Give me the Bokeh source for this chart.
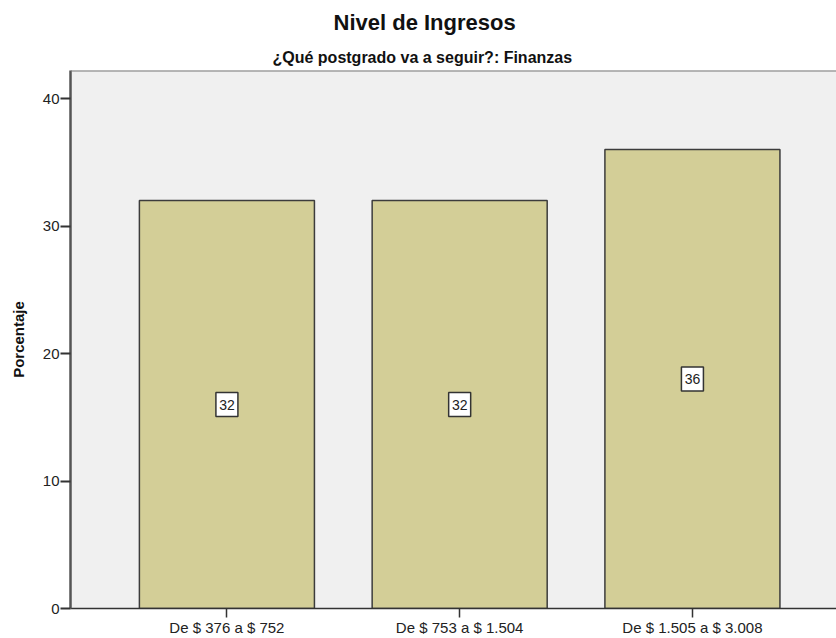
from bokeh.plotting import figure
from bokeh.models import ColumnDataSource, FixedTicker, Range1d, Title, Span
from bokeh.core.properties import value
from bokeh.embed import file_html
from bokeh.resources import INLINE

categories = ["De $ 376 a $ 752", "De $ 753 a $ 1.504", "De $ 1.505 a $ 3.008"]
values = [32, 32, 36]
y_ticks = [0, 10, 20, 30, 40]
y_max = 42.2

xs = list(range(len(categories)))
src = ColumnDataSource(dict(x=xs, top=values, mid=[v / 2 for v in values],
                            lab=[str(v) for v in values]))

FONT = "Liberation Sans"

p = figure(width=836, height=638, output_backend="svg", toolbar_location=None,
           x_range=Range1d(-0.672, 2.619), y_range=Range1d(0, y_max),
           min_border_left=70, min_border_right=0, min_border_top=70, min_border_bottom=30,
           background_fill_color="#F0F0F0", border_fill_color="white")

p.title.text = "Nivel de Ingresos"
p.title.align = "left"
p.title.offset = 263
p.title.standoff = 14
p.title.text_font = FONT
p.title.text_font_size = "22px"
p.title.text_font_style = "bold"
p.title.text_color = "#111111"
p.add_layout(Title(text="¿Qué postgrado va a seguir?: Finanzas", align="left", offset=202,
                   text_font=FONT, text_font_size="16px", text_font_style="bold",
                   text_color="#111111"), "above")

p.vbar(x="x", top="top", width=0.752, bottom=0, source=src,
       fill_color="#D3CE97", line_color="#3C3C3C", line_width=1.5)

p.rect(x="x", y="mid", width=22, height=24, width_units="screen", height_units="screen",
       source=src, fill_color="white", line_color="#333333", line_width=1.5)
p.text(x="x", y="mid", text="lab", source=src, text_align="center", text_baseline="middle",
       text_font=value(FONT), text_font_size="14px", text_color="#222222")

p.xgrid.visible = False
p.ygrid.visible = False
p.outline_line_color = None
p.add_layout(Span(location=y_max, dimension="width", line_color="#777777", line_width=2))

p.xaxis.ticker = FixedTicker(ticks=xs)
p.xaxis.major_label_overrides = {i: c for i, c in enumerate(categories)}
p.xaxis.minor_tick_line_color = None
p.xaxis.major_tick_in = 0
p.xaxis.major_tick_out = 9
p.xaxis.axis_line_color = "#333333"
p.xaxis.axis_line_width = 1.5
p.xaxis.major_tick_line_color = "#333333"
p.xaxis.major_tick_line_width = 1.5
p.xaxis.major_label_text_font = FONT
p.xaxis.major_label_text_font_size = "15px"
p.xaxis.major_label_text_color = "#222222"
p.xaxis.major_label_standoff = 1
p.xaxis.axis_label_standoff = 0

p.yaxis.ticker = FixedTicker(ticks=y_ticks)
p.yaxis.minor_tick_line_color = None
p.yaxis.major_tick_in = 0
p.yaxis.major_tick_out = 10
p.yaxis.axis_line_color = "#555555"
p.yaxis.axis_line_width = 2.5
p.yaxis.major_tick_line_color = "#333333"
p.yaxis.major_tick_line_width = 2
p.yaxis.major_label_text_font = FONT
p.yaxis.major_label_text_font_size = "15px"
p.yaxis.major_label_text_color = "#222222"
p.yaxis.major_label_standoff = 1
p.yaxis.axis_label = "Porcentaje"
p.yaxis.axis_label_text_font = FONT
p.yaxis.axis_label_text_font_size = "15px"
p.yaxis.axis_label_text_font_style = "bold"
p.yaxis.axis_label_text_color = "#111111"
p.yaxis.axis_label_standoff = 13

open("out.html", "w").write(file_html(p, INLINE))
